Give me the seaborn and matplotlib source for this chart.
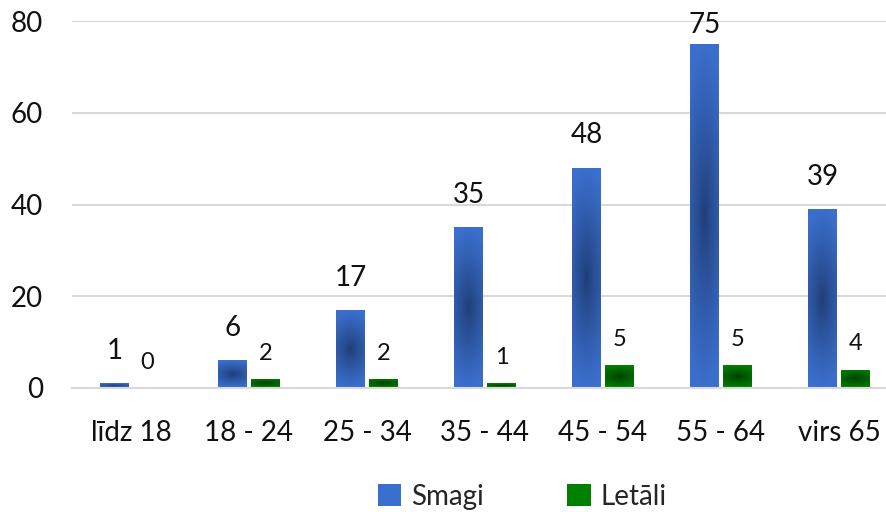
import numpy as np
import pandas as pd
import matplotlib
matplotlib.use("Agg")
import matplotlib.pyplot as plt
import matplotlib.patches as mpatches
from matplotlib.colors import to_rgb
import seaborn as sns

categories = ["līdz 18", "18 - 24", "25 - 34", "35 - 44", "45 - 54", "55 - 64", "virs 65"]
smagi = [1, 6, 17, 35, 48, 75, 39]
letali = [0, 2, 2, 1, 5, 5, 4]
series_names = ["Smagi", "Letāli"]

# edge colour / centre colour of the "from centre" gradient fills
LIGHT = {"Smagi": "#3b6fcd", "Letāli": "#008000"}
DARK = {"Smagi": "#1f3d76", "Letāli": "#003f00"}

sns.set_theme(style="white")
plt.rcParams["font.family"] = ["Lato", "DejaVu Sans"]

df = pd.DataFrame({
    "group": categories * 2,
    "value": smagi + letali,
    "series": [series_names[0]] * len(categories) + [series_names[1]] * len(categories),
})

fig = plt.figure(figsize=(8.87, 5.12), dpi=100)
ax = fig.add_axes([72 / 887, 124 / 512, 815 / 887, 367 / 512])

sns.barplot(
    data=df, x="group", y="value", hue="series",
    palette=LIGHT, width=0.56, gap=0.15, legend=False, ax=ax,
    linewidth=0, saturation=1,
)


def gradient_img(h_px, w_px, light, dark):
    yy, xx = np.mgrid[-1:1:h_px * 1j, -1:1:w_px * 1j]
    t = np.clip(np.sqrt(0.3 * xx ** 2 + yy ** 2), 0, 1) ** 0.85
    lo = np.array(to_rgb(dark))
    hi = np.array(to_rgb(light))
    return lo + (hi - lo) * t[..., None]


for cont, name in zip(ax.containers, series_names):
    for bar in cont:
        h = bar.get_height()
        if h <= 0:
            continue
        x, w = bar.get_x(), bar.get_width()
        img = gradient_img(120, 40, LIGHT[name], DARK[name])
        im = ax.imshow(img, extent=[x, x + w, 0, h], aspect="auto",
                       interpolation="bilinear", zorder=bar.get_zorder() + 0.1)
        im.set_clip_path(bar)

# data labels
for cont, name in zip(ax.containers, series_names):
    for bar in cont:
        v = bar.get_height()
        cx = bar.get_x() + bar.get_width() / 2
        if name == "Smagi":
            off = 14 if v < 70 else 4
            fs = 20
        else:
            off = 11
            fs = 17
        ax.annotate(f"{v:g}", (cx, v), xytext=(0, off), textcoords="offset points",
                    ha="center", va="bottom", fontsize=fs, color="#111111", zorder=6)

ax.set_xlim(-0.5, -0.5 + 815 / 118)
ax.set_ylim(0, 80)
ax.set_yticks([0, 20, 40, 60, 80])
ax.yaxis.grid(True, color="#d9d9d9", linewidth=1.5)
ax.set_axisbelow(True)
for s in ["top", "right", "left"]:
    ax.spines[s].set_visible(False)
ax.spines["bottom"].set_color("#d9d9d9")
ax.spines["bottom"].set_linewidth(1.5)
ax.set_xlabel("")
ax.set_ylabel("")
ax.tick_params(axis="y", length=0, pad=21, labelsize=20, labelcolor="#111111")
ax.tick_params(axis="x", length=0, pad=23, labelsize=20, labelcolor="#111111")

handles = [mpatches.Patch(facecolor=LIGHT[n], edgecolor="none", label=n) for n in series_names]
fig.legend(handles=handles, loc="center", bbox_to_anchor=(522 / 887, 15 / 512),
           ncol=2, frameon=False, fontsize=20, handlelength=0.85, handleheight=0.85,
           handletextpad=0.35, columnspacing=3.0)

fig.savefig("out.png", dpi=100)
